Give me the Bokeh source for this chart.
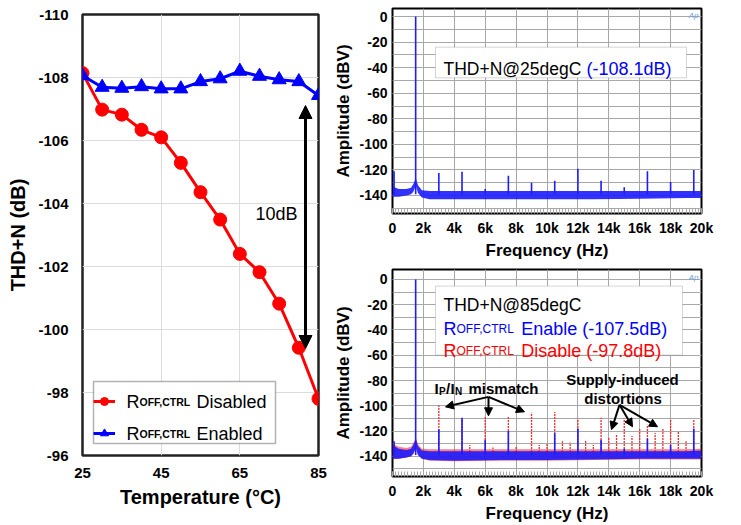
from bokeh.plotting import figure
from bokeh.layouts import row, column
from bokeh.models import (Range1d, FixedTicker, Legend, LegendItem, Label, Arrow,
                          NormalHead, BoxAnnotation)
from bokeh.embed import file_html
from bokeh.resources import INLINE
import numpy as np

# ---------------- data: THD+N vs temperature ----------------
temperature = [25, 30, 35, 40, 45, 50, 55, 60, 65, 70, 75, 80, 85]
thd_disabled = [-108.14, -106.98, -106.82, -106.34, -106.10, -105.29, -104.36,
                -103.49, -102.40, -101.82, -100.82, -99.42, -97.80]
thd_enabled = [-108.06, -107.69, -107.66, -107.71, -107.64, -107.64, -107.87,
               -107.96, -108.20, -108.04, -107.93, -107.87, -107.43]
temp_ticks = [25, 45, 65, 85]
temp_tick_labels = ["25", "45", "65", "85"]
thd_ticks = [-110, -108, -106, -104, -102, -100, -98, -96]
thd_tick_labels = ["-110", "-108", "-106", "-104", "-102", "-100", "-98", "-96"]

# ---------------- data: spectra ----------------
freq_ticks = [0, 2000, 4000, 6000, 8000, 10000, 12000, 14000, 16000, 18000, 20000]
freq_tick_labels = ["0", "2k", "4k", "6k", "8k", "10k", "12k", "14k", "16k", "18k", "20k"]
amp_ticks = [0, -20, -40, -60, -80, -100, -120, -140]
amp_tick_labels = ["0", "-20", "-40", "-60", "-80", "-100", "-120", "-140"]

spike_base = -139.0

# 25 degC spectrum (blue)
spec25_freq = [100, 1500, 3000, 4500, 6000, 7500, 9000, 10500, 12000, 13500, 15000,
               16500, 18000, 19500]
spec25_peak = [-121, 0, -122.5, -121.5, -135, -124.5, -130, -128.5, -119, -128.5,
               -133.5, -121, -129.5, -120]

# 85 degC spectrum, R_OFF,CTRL enabled (blue)
spec85_en_freq = [100, 1500, 3000, 4500, 6000, 7500, 9000, 10500, 12000, 13500,
                  15000, 16500, 18000, 19500]
spec85_en_peak = [-128, 0, -118.5, -109.5, -127, -120, -137, -121.5, -118, -127,
                  -134, -126, -131, -118]

# 85 degC spectrum, R_OFF,CTRL disabled (red)
spec85_dis_freq = [100, 3000, 4500, 5000, 6000, 6500, 7500, 8000, 9000, 9500, 10000,
                   10500, 11000, 11500, 12000, 12500, 13000, 13500, 14000, 14500,
                   15000, 15500, 16000, 16500, 17000, 17500, 18000, 18500, 19000,
                   19500]
spec85_dis_peak = [-129, -99.5, -111, -131, -108, -133, -108.5, -132, -105.5, -131,
                   -130, -105, -128, -129, -110, -127.5, -131, -109.5, -125.5, -123,
                   -110, -124, -118, -115, -121.5, -118, -111, -120.5, -128, -111]

# noise floor envelopes
floor_freq = [0, 400, 900, 1200, 1350, 1450, 1500, 1550, 1650, 1900, 2400, 4000,
              7000, 10000, 13000, 16000, 19000, 20000]
floor25_hi = [-133, -135, -135, -134, -131, -128, -126, -128, -132, -136, -136.5,
              -136.5, -136.5, -136.5, -136.5, -136.5, -136.5, -136.5]
floor25_lo = [-141, -141, -140, -139, -137, -134, -131, -134, -138, -141.5, -143,
              -143, -143, -143, -143, -142.5, -142, -142]
floor85_en_hi = [-131, -134, -135, -134, -131, -128, -126, -128, -132, -135.5, -136,
                 -136, -136, -136, -136, -136, -136, -135.5]
floor85_en_lo = [-142, -142, -141, -140, -138, -135, -132, -135, -139, -142, -143,
                 -143.5, -143, -143, -142.5, -142, -142, -142]
floor85_dis_hi = [-130, -132.5, -133.5, -132.5, -129.5, -127, -125, -127, -130.5,
                  -134, -134.5, -134.5, -134.5, -134.5, -134.5, -134.5, -134.5, -134]
floor85_dis_lo = [-142, -142, -141, -140, -138, -135, -132, -135, -139, -142, -143.5,
                  -144, -143.5, -143.5, -143, -142.5, -142.5, -142.5]

# ---------------- styles ----------------
FONT = "Liberation Sans"
BLUE = "#0000ff"
RED = "#ff0000"
SBLUE = "#1c1cff"
SRED = "#ff2626"


def lab(fig, x, y, text, size, color="black", bold=False, align="left", italic=False):
    style = "bold" if bold else ("italic" if italic else "normal")
    fig.add_layout(Label(x=x, y=y, text=text, text_font=FONT,
                         text_font_size=f"{size}px", text_font_style=style,
                         text_color=color, text_align=align,
                         text_baseline="alphabetic", level="overlay"))


# ================= left: THD+N vs temperature =================
p1 = figure(width=330, height=525, min_border_left=82, min_border_right=12,
            min_border_top=14, min_border_bottom=70,
            x_range=Range1d(25, 85), y_range=Range1d(-96, -110),
            output_backend="svg", toolbar_location=None)

# page px -> data helpers (layout only)
X1 = lambda px: 25 + (px - 82) * 60 / 236
Y1 = lambda py: -110 + (py - 14) * 14 / 441

p1.xaxis.ticker = FixedTicker(ticks=temp_ticks)
p1.xaxis.major_label_overrides = dict(zip(temp_ticks, temp_tick_labels))
p1.yaxis.ticker = FixedTicker(ticks=thd_ticks)
p1.yaxis.major_label_overrides = dict(zip(thd_ticks, thd_tick_labels))
for ax in (p1.xaxis, p1.yaxis):
    ax.axis_line_color = None
    ax.major_tick_in = 0
    ax.major_tick_out = 0
    ax.minor_tick_in = 0
    ax.minor_tick_out = 0
    ax.major_label_text_font = FONT
    ax.major_label_text_font_size = "15px"
    ax.major_label_text_font_style = "bold"
    ax.major_label_text_color = "black"
    ax.axis_label_text_font = FONT
    ax.axis_label_text_font_size = "20px"
    ax.axis_label_text_font_style = "bold"
    ax.axis_label_text_color = "black"
p1.xaxis.axis_label = "Temperature (°C)"
p1.yaxis.axis_label = "THD+N (dB)"
p1.xaxis.major_label_standoff = 12
p1.yaxis.major_label_standoff = 14
p1.xaxis.axis_label_standoff = 5
p1.yaxis.axis_label_standoff = 6
p1.grid.grid_line_color = "#dcdcdc"
p1.grid.grid_line_width = 1
p1.outline_line_color = "#222222"
p1.outline_line_width = 2.5

r_line = p1.line(temperature, thd_disabled, line_color=RED, line_width=3)
r_pts = p1.scatter(temperature, thd_disabled, marker="circle", size=13,
                   fill_color=RED, line_color=RED)
b_line = p1.line(temperature, thd_enabled, line_color=BLUE, line_width=3)
b_pts = p1.scatter(temperature, thd_enabled, marker="triangle", size=14,
                   fill_color=BLUE, line_color=BLUE)

# legend frame (white box) drawn as an annotation, legend glyphs on top of it
p1.add_layout(BoxAnnotation(left=X1(93), right=X1(275), top=Y1(381), bottom=Y1(443),
                            fill_color="white", fill_alpha=1.0, line_color="black",
                            line_width=1.5))
leg = Legend(items=[LegendItem(label=" ", renderers=[r_line, r_pts]),
                    LegendItem(label=" ", renderers=[b_line, b_pts])],
             location=(11, 12), padding=5, spacing=12, label_height=20,
             glyph_height=20, glyph_width=22, label_width=10, label_standoff=2,
             margin=0, border_line_color=None, background_fill_alpha=0.0)
p1.add_layout(leg)

for py, word in ((401.7, "Disabled"), (433.0, "Enabled")):
    lab(p1, X1(126), Y1(py), "R", 18)
    lab(p1, X1(139), Y1(py), "OFF,CTRL", 10.5, bold=True)
    lab(p1, X1(196), Y1(py), word, 18)

p1.add_layout(Arrow(start=NormalHead(size=13, fill_color="black", line_color="black"),
                    end=NormalHead(size=13, fill_color="black", line_color="black"),
                    x_start=X1(305), y_start=Y1(348), x_end=X1(305), y_end=Y1(105),
                    line_width=3, line_color="black"))
lab(p1, X1(255), Y1(213.3), "10dB", 18)


# ================= right: spectra =================
def spectrum_fig(h, top, bottom, yr):
    p = figure(width=411, height=h, min_border_left=62,
               min_border_right=40, min_border_top=top, min_border_bottom=bottom,
               x_range=Range1d(0, 20000), y_range=Range1d(*yr),
               output_backend="svg", toolbar_location=None)
    p.xaxis.ticker = FixedTicker(ticks=freq_ticks,
                                 minor_ticks=list(np.arange(0, 20001, 200)))
    p.xaxis.major_label_overrides = dict(zip(freq_ticks, freq_tick_labels))
    p.yaxis.ticker = FixedTicker(ticks=amp_ticks,
                                 minor_ticks=list(np.arange(-150, 1, 10)))
    p.yaxis.major_label_overrides = dict(zip(amp_ticks, amp_tick_labels))
    for ax in (p.xaxis, p.yaxis):
        ax.axis_line_color = None
        ax.major_label_text_font = FONT
        ax.major_label_text_font_size = "14px"
        ax.major_label_text_font_style = "bold"
        ax.major_label_text_color = "black"
        ax.axis_label_text_font = FONT
        ax.axis_label_text_font_size = "17px"
        ax.axis_label_text_font_style = "bold"
        ax.axis_label_text_color = "black"
    p.yaxis.major_tick_in = 0
    p.yaxis.major_tick_out = 0
    p.yaxis.minor_tick_in = 0
    p.yaxis.minor_tick_out = 0
    p.xaxis.major_tick_in = 5
    p.xaxis.major_tick_out = 0
    p.xaxis.minor_tick_in = 5
    p.xaxis.minor_tick_out = 0
    p.xaxis.major_tick_line_color = "#999999"
    p.xaxis.minor_tick_line_color = "#aaaaaa"
    p.xaxis.axis_label = "Frequency (Hz)"
    p.yaxis.axis_label = "Amplitude (dBV)"
    p.xaxis.major_label_standoff = 6
    p.yaxis.major_label_standoff = 5
    p.xaxis.axis_label_standoff = 2
    p.yaxis.axis_label_standoff = 3
    p.xgrid.grid_line_color = "#a8a8a8"
    p.ygrid.grid_line_color = "#a8a8a8"
    p.ygrid.minor_grid_line_color = "#a8a8a8"
    p.outline_line_color = "black"
    p.outline_line_width = 2
    return p


# ---- top: 25 degC ----
p2 = spectrum_fig(262, 8, 49, (-154.1, 6.3))
X2 = lambda px: (px - 392) * 20000 / 309
Y2 = lambda py: 6.3 - (py - 8) * 160.4 / 205

p2.varea(x=floor_freq, y1=floor25_lo, y2=floor25_hi, fill_color=SBLUE, fill_alpha=0.9)
p2.segment(x0=spec25_freq, y0=[spike_base] * len(spec25_freq), x1=spec25_freq,
           y1=spec25_peak, line_color=SBLUE, line_width=1.6)

p2.add_layout(BoxAnnotation(left=X2(435), right=X2(686), top=Y2(46.7), bottom=Y2(77.3),
                            fill_color="white", fill_alpha=1.0, line_color="#777777",
                            line_width=1))
lab(p2, X2(443), Y2(68.5), "THD+N@25degC", 17.5)
lab(p2, X2(586), Y2(68.5), "(-108.1dB)", 18, color=BLUE)
lab(p2, X2(698), Y2(15), "Ap", 8, color="#6f9fe0", align="right", italic=True)

# ---- bottom: 85 degC ----
p3 = spectrum_fig(263, 7, 48, (-156.0, 7.9))
X3 = X2
Y3 = lambda py: 7.9 - (py - 269) * 163.9 / 208

p3.varea(x=floor_freq, y1=floor85_dis_lo, y2=floor85_dis_hi, fill_color=SRED,
         fill_alpha=0.6)
p3.segment(x0=spec85_dis_freq, y0=[spike_base] * len(spec85_dis_freq),
           x1=spec85_dis_freq, y1=spec85_dis_peak, line_color=SRED, line_width=1.3,
           line_dash="2 1")
p3.varea(x=floor_freq, y1=floor85_en_lo, y2=floor85_en_hi, fill_color=SBLUE,
         fill_alpha=0.9)
p3.segment(x0=spec85_en_freq, y0=[spike_base] * len(spec85_en_freq),
           x1=spec85_en_freq, y1=spec85_en_peak, line_color=SBLUE, line_width=1.6)

p3.add_layout(BoxAnnotation(left=X3(435), right=X3(682), top=Y3(285.7), bottom=Y3(355),
                            fill_color="white", fill_alpha=1.0, line_color="#777777",
                            line_width=1))
lab(p3, X3(443), Y3(305), "THD+N@85degC", 17.5)
lab(p3, X3(443), Y3(328.3), "R", 18, color=BLUE)
lab(p3, X3(456), Y3(328.3), "OFF,CTRL", 12, color=BLUE)
lab(p3, X3(520.7), Y3(328.3), "Enable (-107.5dB)", 18, color=BLUE)
lab(p3, X3(443), Y3(350.7), "R", 18, color=RED)
lab(p3, X3(456), Y3(350.7), "OFF,CTRL", 12, color=RED)
lab(p3, X3(520.7), Y3(350.7), "Disable  (-97.8dB)", 18, color=RED)
lab(p3, X3(698), Y3(277), "Ap", 8, color="#6f9fe0", align="right", italic=True)

# I_P / I_N mismatch annotation
lab(p3, X3(434), Y3(388.3), "I", 15, bold=True)
lab(p3, X3(438.5), Y3(391.5), "P", 10, bold=True)
lab(p3, X3(445.5), Y3(388.3), "/", 15, bold=True)
lab(p3, X3(450), Y3(388.3), "I", 15, bold=True)
lab(p3, X3(454.5), Y3(391.5), "N", 10, bold=True)
lab(p3, X3(468), Y3(388.3), "mismatch", 15, bold=True)
for (xe, ye) in ((445, 407), (488, 416), (524, 412)):
    p3.add_layout(Arrow(end=NormalHead(size=8, fill_color="black", line_color="black"),
                        x_start=X3(488), y_start=Y3(397), x_end=X3(xe), y_end=Y3(ye),
                        line_width=2, line_color="black"))

# supply-induced distortions annotation
lab(p3, X3(622), Y3(380), "Supply-induced", 15, bold=True, align="center")
lab(p3, X3(622.5), Y3(398.5), "distortions", 15, bold=True, align="center")
for (xe, ye) in ((611, 430), (632, 427), (657, 427)):
    p3.add_layout(Arrow(end=NormalHead(size=8, fill_color="black", line_color="black"),
                        x_start=X3(619), y_start=Y3(405), x_end=X3(xe), y_end=Y3(ye),
                        line_width=2, line_color="black"))

layout = row(p1, column(p2, p3, spacing=0), spacing=0)
open("out.html", "w").write(file_html(layout, INLINE))
